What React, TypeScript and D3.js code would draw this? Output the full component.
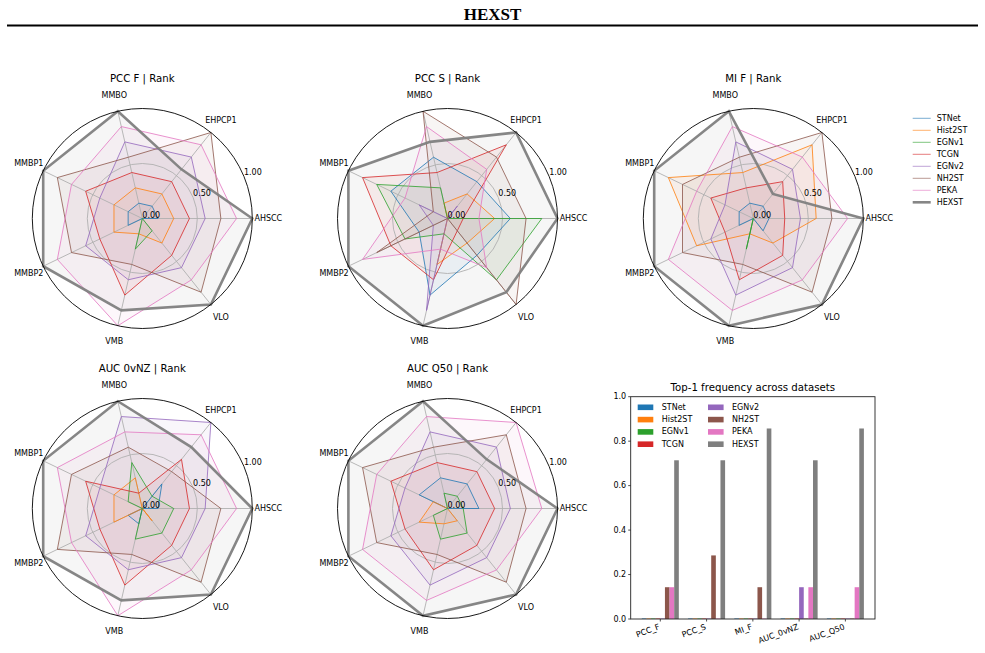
import React from 'react';
import * as d3 from 'd3';

const WIDTH = 985;
const HEIGHT = 653;

const methods = ['STNet', 'Hist2ST', 'EGNv1', 'TCGN', 'EGNv2', 'NH2ST', 'PEKA', 'HEXST'];
const colors = ['#1f77b4', '#ff7f0e', '#2ca02c', '#d62728', '#9467bd', '#8c564b', '#e377c2', '#7f7f7f'];
const datasets = ['AHSCC', 'EHPCP1', 'MMBO', 'MMBP1', 'MMBP2', 'VMB', 'VLO'];
const MAX_RANK = 7;
const radialTicks = [0, 0.5, 1];

// Rank points per metric: one row per method (order of `methods`), one value per dataset.
const pccF = [
  [1, 1, 1, 1, 1, 0, 0],
  [2, 2, 2, 2, 2, 1, 2],
  [0, 0, 0, 0, 0, 2, 1],
  [3, 3, 3, 4, 3, 5, 3],
  [4, 5, 5, 3, 4, 4, 4],
  [5, 7, 4, 6, 5, 3, 6],
  [6, 6, 6, 5, 6, 7, 5],
  [7, 4, 7, 7, 7, 6, 7],
];
const pccS = [
  [4, 3, 4, 4, 2, 5, 3],
  [3, 2, 1, 0, 0, 3, 2],
  [6, 0, 2, 5, 3, 1, 5],
  [1, 6, 3, 6, 4, 4, 1],
  [0, 1, 0, 2, 1, 6, 0],
  [5, 5, 7, 1, 5, 0, 7],
  [2, 4, 6, 3, 6, 2, 4],
  [7, 7, 5, 7, 7, 7, 6],
];
const miF = [
  [1, 1, 1, 1, 1, 0, 1],
  [4, 6, 3, 6, 4, 1, 2],
  [0, 0, 0, 0, 0, 2, 0],
  [2, 3, 2, 3, 2, 4, 3],
  [3, 4, 5, 2, 3, 5, 4],
  [5, 7, 4, 5, 5, 3, 6],
  [6, 5, 6, 4, 6, 6, 5],
  [7, 2, 7, 7, 7, 7, 7],
];
const auc0vNZ = [
  [1, 2, 0, 0, 1, 1, 0],
  [0, 0, 2, 2, 2, 0, 1],
  [2, 1, 3, 1, 0, 2, 2],
  [3, 4, 1, 4, 3, 5, 3],
  [4, 7, 6, 3, 4, 4, 4],
  [5, 3, 4, 5, 6, 3, 6],
  [6, 6, 5, 6, 5, 7, 5],
  [7, 5, 7, 7, 7, 6, 7],
];
const aucQ50 = [
  [2, 2, 2, 2, 0, 0, 0],
  [0, 0, 0, 1, 2, 1, 1],
  [1, 1, 1, 0, 1, 2, 2],
  [3, 3, 3, 4, 3, 4, 3],
  [4, 5, 5, 3, 4, 5, 4],
  [5, 6, 4, 6, 5, 3, 6],
  [6, 7, 6, 5, 6, 6, 5],
  [7, 4, 7, 7, 7, 7, 7],
];

// Top-1 frequency across datasets, per method, per metric
const barCategories = ['PCC_F', 'PCC_S', 'MI_F', 'AUC_0vNZ', 'AUC_Q50'];
const top1STNet = [0, 0, 0, 0, 0];
const top1Hist2ST = [0, 0, 0, 0, 0];
const top1EGNv1 = [0, 0, 0, 0, 0];
const top1TCGN = [0, 0, 0, 0, 0];
const top1EGNv2 = [0, 0, 0, 0.143, 0];
const top1NH2ST = [0.143, 0.286, 0.143, 0, 0];
const top1PEKA = [0.143, 0, 0, 0.143, 0.143];
const top1HEXST = [0.714, 0.714, 0.857, 0.714, 0.857];
const barYTicks = [0, 0.2, 0.4, 0.6, 0.8, 1.0];

const FONT = '"DejaVu Sans", sans-serif';

type RadarProps = { cx: number; cy: number; title: string; scores: number[][] };

function Radar({ cx, cy, title, scores }: RadarProps) {
  const R = 110;
  const r = d3.scaleLinear().domain([0, 1]).range([0, R]);
  const n = datasets.length;
  // angle measured clockwise from 12 o'clock; first dataset points east, then counter-clockwise
  const angle = (i: number) => Math.PI / 2 - (i * 2 * Math.PI) / n;
  const line = d3
    .lineRadial<number>()
    .angle((_, i) => angle(i))
    .radius((d) => r(d / MAX_RANK))
    .curve(d3.curveLinearClosed);
  const pt = (i: number, rad: number) => [rad * Math.sin(angle(i)), -rad * Math.cos(angle(i))];
  const lblAng = (22.5 * Math.PI) / 180;

  return (
    <g transform={`translate(${cx},${cy})`}>
      <text x={0} y={-140} textAnchor="middle" dominantBaseline="central" fontSize={10.2}>
        {title}
      </text>
      {scores.map((s, k) => (
        <path
          key={`f${k}`}
          d={line(s) ?? ''}
          fill={colors[k]}
          fillOpacity={k === 7 ? 0.07 : 0.06}
          stroke="none"
        />
      ))}
      {datasets.map((_, i) => {
        const [x, y] = pt(i, r(1));
        return <line key={`s${i}`} x1={0} y1={0} x2={x} y2={y} stroke="#b0b0b0" strokeWidth={0.9} />;
      })}
      <circle r={r(0.5)} fill="none" stroke="#b0b0b0" strokeWidth={0.9} />
      {scores.map((s, k) => (
        <path
          key={`l${k}`}
          d={line(s) ?? ''}
          fill="none"
          stroke={colors[k]}
          strokeOpacity={k === 7 ? 0.95 : 0.8}
          strokeWidth={k === 7 ? 2.6 : 1}
          strokeLinejoin="miter"
        />
      ))}
      <circle r={r(1)} fill="none" stroke="#000" strokeWidth={0.9} />
      {radialTicks.map((t) => (
        <text
          key={`r${t}`}
          x={r(t) * Math.cos(lblAng)}
          y={-r(t) * Math.sin(lblAng) - 1}
          fontSize={8}
          textAnchor="start"
        >
          {t.toFixed(2)}
        </text>
      ))}
      {datasets.map((name, i) => {
        const [x, y] = pt(i, R + 16);
        return (
          <text key={`a${i}`} x={x} y={y} fontSize={8} textAnchor="middle" dominantBaseline="central">
            {name}
          </text>
        );
      })}
    </g>
  );
}

function RadarLegend({ x, y }: { x: number; y: number }) {
  return (
    <g transform={`translate(${x},${y})`}>
      {methods.map((m, k) => (
        <g key={m} transform={`translate(0,${k * 12})`}>
          <line
            x1={0}
            x2={18}
            y1={0}
            y2={0}
            stroke={colors[k]}
            strokeOpacity={k === 7 ? 0.95 : 0.6}
            strokeWidth={k === 7 ? 2.6 : 1}
          />
          <text x={24} y={0} fontSize={8} dominantBaseline="central">
            {m}
          </text>
        </g>
      ))}
    </g>
  );
}

function TopOneBars() {
  const series = [top1STNet, top1Hist2ST, top1EGNv1, top1TCGN, top1EGNv2, top1NH2ST, top1PEKA, top1HEXST];
  const left = 630.7;
  const right = 875;
  const top = 396.7;
  const bottom = 619;
  const barW = 0.1;
  const x = d3.scaleLinear().domain([-0.64, barCategories.length - 1 + 0.64]).range([left, right]);
  const y = d3.scaleLinear().domain([0, 1]).range([bottom, top]);
  const w = x(barW) - x(0);

  return (
    <g>
      <text x={(left + right) / 2} y={387} textAnchor="middle" dominantBaseline="central" fontSize={10.2}>
        Top-1 frequency across datasets
      </text>
      {series.map((vals, k) =>
        vals.map((v, i) => {
          const xc = x(i + (k - (methods.length - 1) / 2) * barW);
          const h = bottom - y(v);
          return v > 0 ? (
            <rect key={`b${k}-${i}`} x={xc - w / 2} y={y(v)} width={w} height={h} fill={colors[k]} />
          ) : (
            <rect
              key={`b${k}-${i}`}
              x={xc - w / 2}
              y={bottom - 0.8}
              width={w}
              height={0.8}
              fill={colors[k]}
              fillOpacity={0.6}
            />
          );
        })
      )}
      <rect x={left} y={top} width={right - left} height={bottom - top} fill="none" stroke="#222" strokeWidth={0.9} />
      {barYTicks.map((t) => (
        <g key={`y${t}`}>
          <line x1={left - 2.5} x2={left} y1={y(t)} y2={y(t)} stroke="#222" strokeWidth={0.8} />
          <text x={left - 4.5} y={y(t)} fontSize={8} textAnchor="end" dominantBaseline="central">
            {t.toFixed(1)}
          </text>
        </g>
      ))}
      {barCategories.map((c, i) => (
        <g key={c}>
          <line x1={x(i)} x2={x(i)} y1={bottom} y2={bottom + 2.5} stroke="#222" strokeWidth={0.8} />
          <text
            transform={`translate(${x(i)},${bottom + 10}) rotate(-20)`}
            fontSize={8}
            textAnchor="end"
          >
            {c}
          </text>
        </g>
      ))}
      {methods.map((m, k) => {
        const col = Math.floor(k / 4);
        const row = k % 4;
        const lx = 637.7 + col * 70.3;
        const ly = 407.3 + row * 12.3;
        return (
          <g key={`lg${m}`}>
            <rect x={lx} y={ly - 2.8} width={15.6} height={5.6} fill={colors[k]} />
            <text x={lx + 24} y={ly} fontSize={8} dominantBaseline="central">
              {m}
            </text>
          </g>
        );
      })}
    </g>
  );
}

export default function App() {
  const radars = [
    { cx: 142.3, cy: 218.5, title: 'PCC F | Rank', scores: pccF },
    { cx: 447.5, cy: 218.5, title: 'PCC S | Rank', scores: pccS },
    { cx: 753.3, cy: 218.5, title: 'MI F | Rank', scores: miF },
    { cx: 142.3, cy: 508.5, title: 'AUC 0vNZ | Rank', scores: auc0vNZ },
    { cx: 447.5, cy: 508.5, title: 'AUC Q50 | Rank', scores: aucQ50 },
  ];
  return (
    <svg
      width={WIDTH}
      height={HEIGHT}
      viewBox={`0 0 ${WIDTH} ${HEIGHT}`}
      style={{ position: 'absolute', left: 0, top: 0, background: '#fff' }}
      fontFamily={FONT}
    >
      <rect width={WIDTH} height={HEIGHT} fill="#fff" />
      <text
        x={WIDTH / 2}
        y={20}
        textAnchor="middle"
        fontFamily='"Liberation Serif", "Times New Roman", serif'
        fontWeight="bold"
        fontSize={17}
      >
        HEXST
      </text>
      <line x1={7} x2={978} y1={25.5} y2={25.5} stroke="#000" strokeWidth={2} />
      {radars.map((p) => (
        <Radar key={p.title} {...p} />
      ))}
      <RadarLegend x={912.7} y={118.3} />
      <TopOneBars />
    </svg>
  );
}
